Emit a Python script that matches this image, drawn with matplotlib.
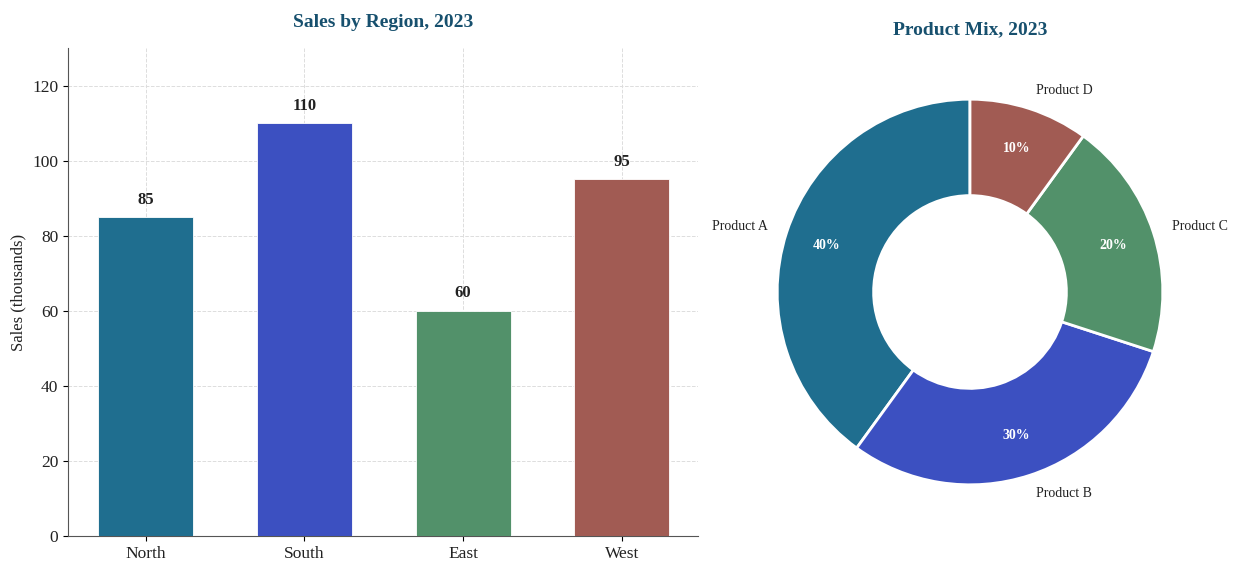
import matplotlib.pyplot as plt
import numpy as np

# Data.
regions = ['North', 'South', 'East', 'West']
sales = [85, 110, 60, 95]
products = ['Product A', 'Product B', 'Product C', 'Product D']
shares = [40, 30, 20, 10]
colors = ['#1f6e8f', '#3c50c1', '#52916a', '#a15b53']
title_color = '#17506e'

plt.rcParams['font.family'] = ['Liberation Serif', 'DejaVu Serif']

fig = plt.figure(figsize=[12.36, 5.62], dpi=100)
ax = fig.add_axes([68 / 1236, 1 - 536 / 562, 630 / 1236, 488 / 562])
ax2 = fig.add_axes([729 / 1236, 1 - 533 / 562, 482 / 1236, 482 / 562])

# Bar chart
x = np.arange(len(regions))
bars = ax.bar(x, sales, width=0.6, color=colors, edgecolor='white', linewidth=0.6, zorder=3)
for b, v in zip(bars, sales):
    ax.text(b.get_x() + b.get_width() / 2, v + 2.5, f'{v}', ha='center', va='bottom',
            fontsize=12, fontweight='bold', color='#222222')
ax.set_xticks(x)
ax.set_xticklabels(regions, fontsize=12.5, color='#222222')
ax.set_ylim(0, 130)
ax.set_yticks(range(0, 121, 20))
ax.tick_params(axis='y', labelsize=12.5, labelcolor='#222222')
ax.set_xlim(-0.49, 3.48)
ax.set_ylabel('Sales (thousands)', fontsize=12, color='#222222')
ax.grid(True, linestyle='--', color='#dddddd', linewidth=0.7, zorder=0)
ax.spines['top'].set_visible(False)
ax.spines['right'].set_visible(False)
ax.spines['left'].set_color('#555555')
ax.spines['bottom'].set_color('#555555')
ax.set_title('Sales by Region, 2023', fontsize=14, fontweight='bold', color=title_color, pad=15)

# Donut chart
wedges, texts, autotexts = ax2.pie(shares, labels=products, colors=colors, startangle=90,
                                   autopct='%d%%', pctdistance=0.78, labeldistance=1.1,
                                   wedgeprops=dict(width=0.5, edgecolor='white', linewidth=2),
                                   textprops=dict(fontsize=10, color='#222222'))
for t in autotexts:
    t.set_color('white')
    t.set_fontweight('bold')
ax2.set_aspect('equal')
ax2.set_title('Product Mix, 2023', fontsize=14, fontweight='bold', color=title_color, pad=12)

plt.savefig('out.png', dpi=100)
